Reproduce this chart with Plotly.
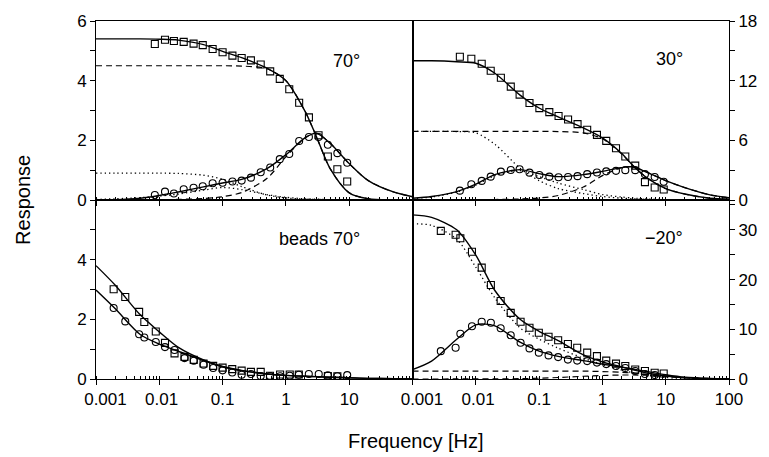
import plotly.graph_objects as go

# ---------------- data ----------------
F = [0.001, 0.002, 0.005, 0.01, 0.02, 0.05, 0.1, 0.2, 0.5, 1, 2, 3, 5, 10, 20, 50, 100]

# panel "70°" (top left)
tl_f = [0.0085, 0.0123, 0.017, 0.0243, 0.0348, 0.0486, 0.0696, 0.1, 0.143, 0.2, 0.28,
        0.40, 0.565, 0.80, 1.13, 1.62, 2.31, 3.28, 4.6, 6.5, 9.3]
tl_sq = [5.23, 5.37, 5.33, 5.30, 5.24, 5.19, 5.06, 4.95, 4.84, 4.76, 4.68,
         4.54, 4.31, 4.06, 3.71, 3.26, 2.77, 2.17, 1.46, 1.03, 0.62]
tl_ci = [0.17, 0.28, 0.22, 0.36, 0.41, 0.46, 0.56, 0.58, 0.62, 0.65, 0.75,
         0.93, 1.09, 1.37, 1.54, 1.98, 2.11, 2.11, 1.85, 1.57, 1.25]
tl_fit_re = [5.40, 5.40, 5.40, 5.39, 5.36, 5.21, 4.98, 4.77, 4.42, 4.00, 2.98, 2.15, 1.05, 0.24, 0.04, 0.0, 0.0]
tl_fit_im = [0.0, 0.01, 0.06, 0.15, 0.27, 0.44, 0.57, 0.69, 1.05, 1.52, 2.08, 2.24, 1.90, 1.22, 0.65, 0.27, 0.11]
tl_da_re = [4.5, 4.5, 4.5, 4.5, 4.5, 4.5, 4.5, 4.49, 4.40, 4.0, 2.98, 2.15, 1.05, 0.24, 0.04, 0.0, 0.0]
tl_da_im = [0.0, 0.0, 0.01, 0.01, 0.02, 0.05, 0.11, 0.25, 0.72, 1.45, 2.08, 2.24, 1.90, 1.22, 0.65, 0.27, 0.11]
tl_do_re = [0.90, 0.90, 0.90, 0.90, 0.89, 0.83, 0.70, 0.45, 0.17, 0.07, 0.03, 0.02, 0.01, 0.0, 0.0, 0.0, 0.0]
tl_do_im = [0.02, 0.04, 0.08, 0.13, 0.20, 0.33, 0.42, 0.35, 0.18, 0.09, 0.04, 0.03, 0.01, 0.0, 0.0, 0.0, 0.0]

# panel "30°" (top right)
tr_f = [0.0056, 0.0085, 0.0124, 0.0172, 0.0249, 0.0357, 0.0492, 0.0705, 0.101, 0.145, 0.203,
        0.287, 0.405, 0.575, 0.82, 1.15, 1.64, 2.3, 3.3, 4.7, 6.7, 9.3]
tr_sq = [14.4, 14.2, 13.7, 13.0, 12.3, 11.4, 10.6, 9.75, 9.24, 8.84, 8.44,
         8.1, 7.63, 7.06, 6.55, 5.95, 5.21, 4.37, 3.46, 1.8, 1.25, 1.05]
tr_ci = [0.94, 1.58, 1.92, 2.35, 2.85, 3.02, 3.09, 2.75, 2.52, 2.35, 2.29,
         2.32, 2.4, 2.6, 2.77, 2.88, 2.93, 3.0, 3.0, 2.6, 2.32, 1.84]
tr_fit_re = [14.0, 14.0, 13.9, 13.75, 12.75, 10.55, 9.25, 8.35, 7.25, 6.25, 4.7, 3.5, 2.25, 1.15, 0.6, 0.18, 0.07]
tr_fit_im = [0.17, 0.35, 0.85, 1.6, 2.55, 3.05, 2.65, 2.35, 2.55, 2.88, 3.25, 3.35, 2.8, 1.95, 1.25, 0.52, 0.23]
tr_da_re = [6.9, 6.9, 6.9, 6.9, 6.9, 6.9, 6.9, 6.88, 6.75, 6.15, 4.65, 3.5, 2.25, 1.15, 0.6, 0.18, 0.07]
tr_da_im = [0.0, 0.0, 0.01, 0.02, 0.05, 0.1, 0.2, 0.45, 1.3, 2.45, 3.25, 3.35, 2.8, 1.95, 1.25, 0.52, 0.23]
tr_do_re = [6.9, 6.9, 6.88, 6.75, 5.6, 3.2, 1.95, 1.15, 0.65, 0.35, 0.18, 0.12, 0.06, 0.02, 0.0, 0.0, 0.0]
tr_do_im = [0.15, 0.3, 0.8, 1.5, 2.45, 2.95, 2.35, 1.7, 1.05, 0.55, 0.3, 0.2, 0.1, 0.04, 0.0, 0.0, 0.0]

# panel "beads 70°" (bottom left)
bl_f_sq = [0.0019, 0.0029, 0.0048, 0.0058, 0.0088, 0.0123, 0.0174, 0.025, 0.035, 0.05, 0.071,
           0.10, 0.142, 0.2, 0.28, 0.4, 0.56, 0.81, 1.15, 1.6, 4.6, 6.5]
bl_sq = [3.01, 2.75, 2.25, 1.91, 1.59, 1.21, 0.86, 0.74, 0.64, 0.52, 0.44,
         0.38, 0.33, 0.28, 0.24, 0.24, 0.11, 0.15, 0.15, 0.15, 0.10, 0.09]
bl_f_ci = [0.0019, 0.0029, 0.0048, 0.0058, 0.0088, 0.0123, 0.0174, 0.025, 0.035, 0.05, 0.071,
           0.10, 0.142, 0.2, 0.28, 0.4, 0.56, 0.81, 1.15, 1.6, 2.3, 3.3, 4.6, 6.5, 9.3]
bl_ci = [2.38, 1.93, 1.50, 1.39, 1.24, 1.07, 0.97, 0.70, 0.61, 0.48, 0.37,
         0.29, 0.22, 0.14, 0.17, 0.10, 0.10, 0.09, 0.11, 0.14, 0.17, 0.17, 0.12, 0.09, 0.13]
bl_fit_sq = [3.80, 3.15, 2.15, 1.58, 1.06, 0.64, 0.42, 0.29, 0.17, 0.12, 0.09, 0.08, 0.06, 0.04, 0.02, 0.01, 0.0]
bl_fit_ci = [2.98, 2.36, 1.49, 1.17, 0.93, 0.62, 0.41, 0.28, 0.17, 0.12, 0.09, 0.08, 0.06, 0.04, 0.02, 0.01, 0.0]

# panel "−20°" (bottom right)
br_f_sq = [0.0028, 0.0048, 0.0057, 0.0087, 0.0124, 0.0173, 0.0247, 0.0356, 0.051, 0.0705, 0.099,
           0.141, 0.2, 0.285, 0.40, 0.575, 0.82, 1.15, 1.64, 2.3, 3.3, 4.7, 6.7, 9.3]
br_sq = [29.8, 29.0, 28.3, 25.6, 22.4, 18.9, 15.7, 13.3, 11.5, 10.3, 9.3,
         8.5, 7.8, 7.05, 6.3, 5.3, 4.6, 3.7, 3.1, 2.6, 1.9, 1.6, 1.25, 1.1]
br_f_ci = [0.0028, 0.0048, 0.0057, 0.0087, 0.0124, 0.0173, 0.0247, 0.0356, 0.051, 0.0705, 0.099,
           0.141, 0.2, 0.285, 0.40, 0.575, 0.82, 1.15, 1.64, 2.3, 3.3, 4.7, 6.7]
br_ci = [5.6, 6.3, 9.1, 10.6, 11.5, 11.3, 10.2, 8.8, 7.3, 6.15, 5.3,
         4.75, 4.4, 3.9, 3.7, 3.6, 3.3, 3.0, 2.6, 2.2, 1.6, 1.0, 0.8]
br_fit_re = [33.0, 32.5, 30.0, 24.9, 17.8, 12.0, 9.6, 7.7, 4.85, 3.45, 2.45, 1.9, 1.2, 0.6, 0.25, 0.07, 0.02]
br_fit_im = [1.9, 3.6, 8.0, 10.9, 10.7, 7.4, 5.6, 4.55, 3.7, 3.0, 2.4, 2.0, 1.5, 0.85, 0.35, 0.1, 0.03]
br_do_re = [31.2, 30.9, 28.1, 22.5, 16.3, 10.3, 8.0, 6.2, 4.2, 2.9, 1.8, 1.3, 0.8, 0.3, 0.1, 0.0, 0.0]
br_da_re = [1.6, 1.6, 1.6, 1.6, 1.6, 1.6, 1.6, 1.6, 1.58, 1.5, 1.35, 1.2, 0.95, 0.55, 0.25, 0.06, 0.02]
br_da_im = [0.0, 0.0, 0.01, 0.02, 0.03, 0.07, 0.15, 0.3, 0.55, 0.7, 0.8, 0.8, 0.75, 0.55, 0.3, 0.1, 0.05]

panel_labels = ["70°", "30°", "beads 70°", "−20°"]
x_ticks_left = [0.001, 0.01, 0.1, 1, 10]
x_text_left = ["\u00a0\u00a0\u00a0\u00a00.001", "\u00a00.01", "0.1", "1", "10"]
x_ticks_right = [0.001, 0.01, 0.1, 1, 10, 100]
x_text_right = ["\u00a0\u00a0\u00a0\u00a00.001", "\u00a00.01", "0.1", "1", "10", "100"]

# ---------------- figure ----------------
FONT = "Liberation Sans, Arial, sans-serif"
fig = go.Figure()

def line(xs, ys, ax, kind):
    xa, ya = ax
    if kind == "solid":
        ln = dict(color="black", width=1.4, shape="spline", smoothing=0.8)
    elif kind == "dash":
        ln = dict(color="black", width=1.2, dash="6px,4px", shape="spline", smoothing=0.8)
    else:
        ln = dict(color="black", width=1.3, dash="1.3px,3px", shape="spline", smoothing=0.8)
    fig.add_trace(go.Scatter(x=xs, y=ys, mode="lines", line=ln, xaxis=xa, yaxis=ya,
                             showlegend=False, hoverinfo="skip"))

def marks(xs, ys, ax, sym):
    xa, ya = ax
    fig.add_trace(go.Scatter(x=xs, y=ys, mode="markers", xaxis=xa, yaxis=ya, showlegend=False,
                             marker=dict(symbol=sym, size=7, color="black",
                                         line=dict(color="black", width=1.1))))

TL, TR, BL, BR = ("x3", "y3"), ("x4", "y4"), ("x", "y"), ("x2", "y2")

for ys in (tl_do_re, tl_do_im):
    line(F, ys, TL, "dot")
for ys in (tl_da_re, tl_da_im):
    line(F, ys, TL, "dash")
for ys in (tl_fit_re, tl_fit_im):
    line(F, ys, TL, "solid")
marks(tl_f, tl_sq, TL, "square-open")
marks(tl_f, tl_ci, TL, "circle-open")

for ys in (tr_do_re, tr_do_im):
    line(F, ys, TR, "dot")
for ys in (tr_da_re, tr_da_im):
    line(F, ys, TR, "dash")
for ys in (tr_fit_re, tr_fit_im):
    line(F, ys, TR, "solid")
marks(tr_f, tr_sq, TR, "square-open")
marks(tr_f, tr_ci, TR, "circle-open")

for ys in (bl_fit_sq, bl_fit_ci):
    line(F, ys, BL, "solid")
marks(bl_f_sq, bl_sq, BL, "square-open")
marks(bl_f_ci, bl_ci, BL, "circle-open")

line(F, br_do_re, BR, "dot")
for ys in (br_da_re, br_da_im):
    line(F, ys, BR, "dash")
for ys in (br_fit_re, br_fit_im):
    line(F, ys, BR, "solid")
marks(br_f_sq, br_sq, BR, "square-open")
marks(br_f_ci, br_ci, BR, "circle-open")

tickfont = dict(family=FONT, size=17, color="black")

def xaxis(domain, anchor, tickvals=None, ticktext=None, labels=True):
    return dict(type="log", range=[-3, 2], domain=domain, anchor=anchor,
                showline=True, linecolor="black", linewidth=1, mirror=True,
                showgrid=False, zeroline=False,
                ticks="outside", ticklen=5, tickwidth=1, tickcolor="black",
                tickmode="array", tickvals=tickvals or [0.001, 0.01, 0.1, 1, 10, 100],
                ticktext=ticktext, showticklabels=labels, tickfont=tickfont,
                minor=dict(ticks="inside", ticklen=3, tickwidth=1, tickcolor="black",
                           dtick="D1", showgrid=False))

def yaxis(domain, anchor, rng, vals, texts, side="left"):
    return dict(range=rng, domain=domain, anchor=anchor, side=side,
                showline=True, linecolor="black", linewidth=1, mirror=True,
                showgrid=False, zeroline=False,
                ticks="outside", ticklen=5, tickwidth=1, tickcolor="black",
                tickmode="array", tickvals=vals, ticktext=texts, tickfont=tickfont)

fig.update_layout(
    width=769, height=457,
    margin=dict(l=96, r=32, t=21, b=78),
    paper_bgcolor="white", plot_bgcolor="white",
    font=dict(family=FONT, color="black"),
    xaxis=xaxis([0, 0.5], "y", x_ticks_left, x_text_left, True),
    xaxis2=xaxis([0.5, 1], "y2", x_ticks_right, x_text_right, True),
    xaxis3=xaxis([0, 0.5], "y3", labels=False),
    xaxis4=xaxis([0.5, 1], "y4", labels=False),
    yaxis=yaxis([0, 0.5], "x", [0, 6], [0, 1, 2, 3, 4, 5, 6], ["0", "", "2", "", "4", "", ""]),
    yaxis2=yaxis([0, 0.5], "x2", [0, 36], [0, 5, 10, 15, 20, 25, 30, 35],
                 ["0", "", "10", "", "20", "", "30", ""], side="right"),
    yaxis3=yaxis([0.5, 1], "x3", [0, 6], [0, 1, 2, 3, 4, 5, 6], ["0", "", "2", "", "4", "", "6"]),
    yaxis4=yaxis([0.5, 1], "x4", [0, 18], [0, 3, 6, 9, 12, 15, 18],
                 ["0", "", "6", "", "12", "", "18"], side="right"),
)

ann_font = dict(family=FONT, size=18, color="black")
ann_pos = [(350, 61), (677, 59), (322, 239), (671, 238)]
for txt, (px, py) in zip(panel_labels, ann_pos):
    fig.add_annotation(text=txt, xref="paper", yref="paper",
                       x=(px - 96) / 641, y=(379 - py) / 358,
                       xanchor="center", yanchor="middle", showarrow=False, font=ann_font)

fig.add_annotation(text="Response", xref="paper", yref="paper",
                   x=(22 - 96) / 641, y=0.5, textangle=-90,
                   xanchor="center", yanchor="middle", showarrow=False,
                   font=dict(family=FONT, size=20, color="black"))
fig.add_annotation(text="Frequency [Hz]", xref="paper", yref="paper",
                   x=(420 - 96) / 641, y=(379 - 441) / 358,
                   xanchor="center", yanchor="middle", showarrow=False,
                   font=dict(family=FONT, size=20, color="black"))

fig.write_html("out.html", config={"displayModeBar": False},
               post_script="document.body.style.margin='0';document.body.style.overflow='hidden';")
